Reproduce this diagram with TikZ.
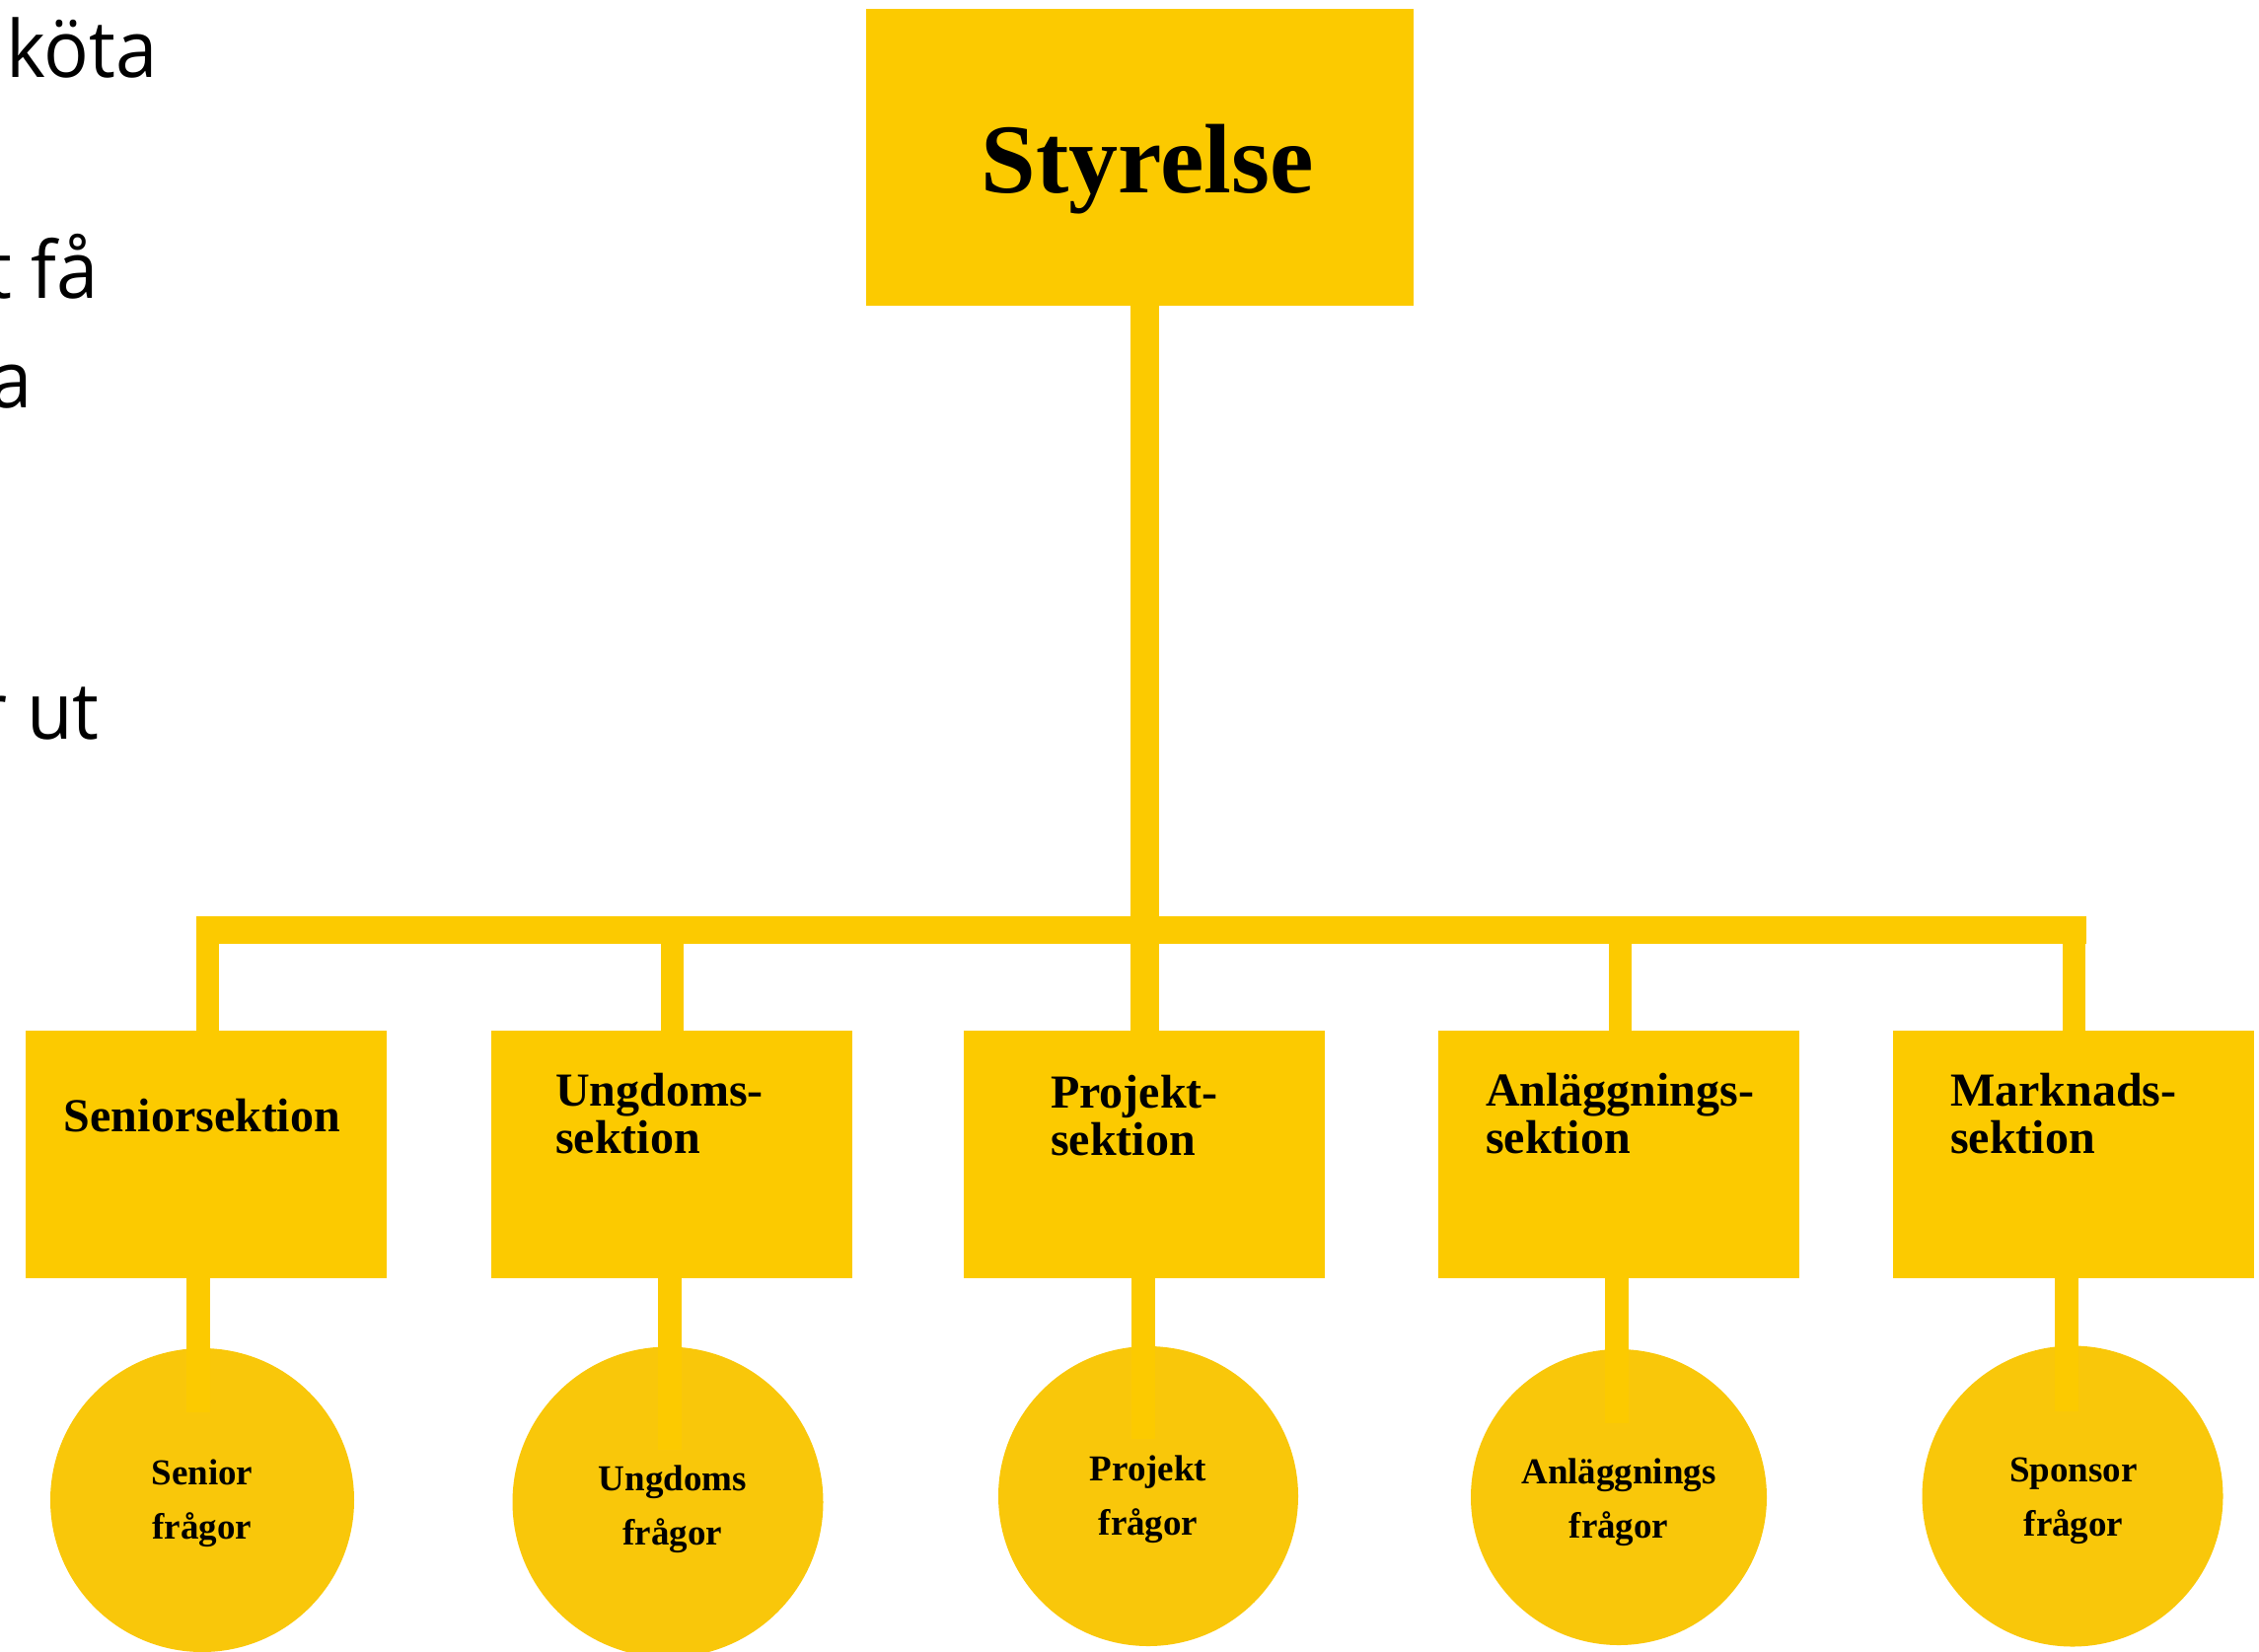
\documentclass[tikz,border=0pt]{standalone}
\usepackage{fontspec}
\setmainfont{Liberation Serif}
\newfontfamily\opensans[FakeStretch=0.95]{Open Sans}
\definecolor{boxyellow}{RGB}{252,202,0}
\definecolor{circyellow}{RGB}{249,199,10}
\begin{document}
\begin{tikzpicture}[x=1pt,y=-1pt,
  box/.style={rectangle,fill=boxyellow,draw=none,inner sep=0pt,outer sep=0pt},
  circ/.style={circle,fill=circyellow,draw=none,inner sep=0pt,outer sep=0pt},
  trunk/.style={draw=boxyellow,line width=29pt,line cap=butt},
  bar/.style={draw=boxyellow,line width=28pt,line cap=butt},
  dropline/.style={draw=boxyellow,line width=23pt,line cap=butt},
  stemline/.style={draw=boxyellow,line width=24pt,line cap=butt},
  seclabel/.style={font=\bfseries\fontsize{48}{48}\selectfont,inner sep=0pt,align=left},
  qlabel/.style={font=\bfseries\fontsize{37}{55}\selectfont,inner sep=0pt,align=center},
  sidetext/.style={font=\opensans\fontsize{80}{96}\selectfont,inner sep=0pt,text=black}]
\useasboundingbox (0,0) rectangle (2290,1674);
% side text (cut at the left edge)
\begin{scope}
\clip (0,0) rectangle (2290,1674);
\node[sidetext,anchor=base east] (t1) at (160,78) {köta};
\node[sidetext,anchor=base east] (t2) at (100,302) {t få};
\node[sidetext,anchor=base east] (t3) at (33,413) {a};
\node[sidetext,anchor=base east] (t4) at (101,749) {r ut};
\end{scope}
% top box
\node[box,minimum width=555pt,minimum height=301pt] (sty) at (1155.5,159.5) {};
\node[font=\bfseries\fontsize{100}{100}\selectfont,inner sep=0pt,anchor=base] (styl) at (1163,195) {Styrelse};
% section boxes
\node[box,minimum width=366pt,minimum height=251pt] (sen) at (209,1170.5) {};
\node[box,minimum width=366pt,minimum height=251pt] (ung) at (681,1170.5) {};
\node[box,minimum width=366pt,minimum height=251pt] (pro) at (1160,1170.5) {};
\node[box,minimum width=366pt,minimum height=251pt] (anl) at (1641,1170.5) {};
\node[box,minimum width=366pt,minimum height=251pt] (mar) at (2102,1170.5) {};
% circles
\node[circ,minimum size=308pt] (senq) at (205,1521) {};
\node[circ,minimum size=315pt] (ungq) at (677,1523) {};
\node[circ,minimum size=304pt] (proq) at (1164,1517) {};
\node[circ,minimum size=300pt] (anlq) at (1641,1518) {};
\node[circ,minimum size=305pt] (spoq) at (2101,1517) {};
% connectors
\coordinate (barL) at (199,943);
\coordinate (barR) at (2115,943);
\draw[trunk] (pro.north |- sty.south) -- (pro.north);
\draw[bar] (barL) -- (barR);
\draw[dropline] ([xshift=1.5pt]sen.north |- barL) -- ([xshift=1.5pt]sen.north);
\draw[dropline] ([xshift=0.5pt]ung.north |- barL) -- ([xshift=0.5pt]ung.north);
\draw[dropline] ([xshift=1.5pt]anl.north |- barL) -- ([xshift=1.5pt]anl.north);
\draw[dropline] ([xshift=0.5pt]mar.north |- barL) -- ([xshift=0.5pt]mar.north);
\coordinate (senE) at (201,1432);
\coordinate (ungE) at (678.5,1470);
\coordinate (proE) at (1159,1459);
\coordinate (anlE) at (1638.5,1443);
\coordinate (marE) at (2094.5,1431);
\draw[stemline] (sen.south -| senE) -- (senE);
\draw[stemline] (ung.south -| ungE) -- (ungE);
\draw[stemline] (pro.south -| proE) -- (proE);
\draw[stemline] (anl.south -| anlE) -- (anlE);
\draw[stemline] (mar.south -| marE) -- (marE);
% section labels
\node[seclabel,anchor=base] (senl) at (205,1147) {Seniorsektion};
\node[seclabel,anchor=base west] (ungl) at (563,1169) {Ungdoms-\\sektion};
\node[seclabel,anchor=base west] (prol) at (1065,1171) {Projekt-\\sektion};
\node[seclabel,anchor=base west] (anll) at (1506,1169) {Anläggnings-\\sektion};
\node[seclabel,anchor=base west] (marl) at (1977,1169) {Marknads-\\sektion};
% circle labels
\node[qlabel,anchor=base] (senql) at (205,1560) {Senior\\frågor};
\node[qlabel,anchor=base] (ungql) at (682,1566) {Ungdoms\\frågor};
\node[qlabel,anchor=base] (proql) at (1164,1556) {Projekt\\frågor};
\node[qlabel,anchor=base] (anlql) at (1641,1559) {Anläggnings\\frågor};
\node[qlabel,anchor=base] (spoql) at (2102,1557) {Sponsor\\frågor};
\end{tikzpicture}
\end{document}
